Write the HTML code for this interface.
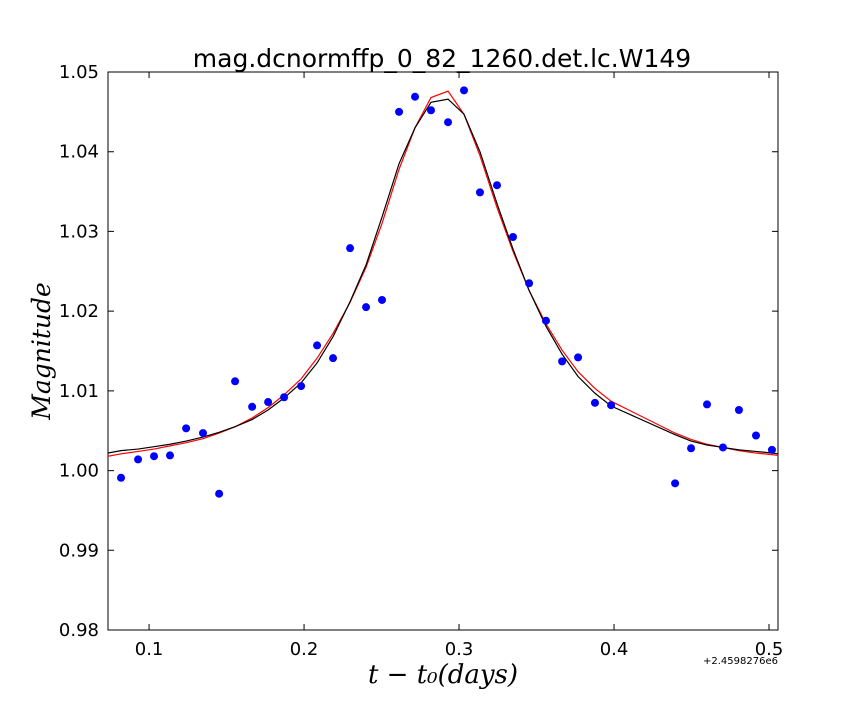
<!DOCTYPE html>
<html><head><meta charset="utf-8"><style>
body{margin:0;background:#fff;}
svg{display:block;font-family:"DejaVu Sans","Liberation Sans",sans-serif;}
</style></head><body>
<svg id="c" width="864" height="720"></svg>
<script>
const obsX=[0.0819,0.0929,0.1032,0.1135,0.1239,0.1348,0.1452,0.1555,0.1665,0.1768,0.1871,0.1981,0.2084,0.2187,0.2297,0.2400,0.2503,0.2613,0.2716,0.2819,0.2929,0.3032,0.3135,0.3245,0.3348,0.3452,0.3561,0.3665,0.3768,0.3877,0.3981,0.4394,0.4497,0.4600,0.4703,0.4806,0.4916,0.5019];
const obsY=[0.9991,1.0014,1.0018,1.0019,1.0053,1.0047,0.9971,1.0112,1.0080,1.0086,1.0092,1.0106,1.0157,1.0141,1.0279,1.0205,1.0214,1.0450,1.0469,1.0452,1.0437,1.0477,1.0349,1.0358,1.0293,1.0235,1.0188,1.0137,1.0142,1.0085,1.0082,0.9984,1.0028,1.0083,1.0029,1.0076,1.0044,1.0026];
const modelX=[0.0735,0.0819,0.0929,0.1032,0.1135,0.1239,0.1348,0.1452,0.1555,0.1665,0.1768,0.1871,0.1981,0.2084,0.2187,0.2297,0.2400,0.2503,0.2613,0.2716,0.2819,0.2929,0.3032,0.3135,0.3245,0.3348,0.3452,0.3561,0.3665,0.3768,0.3877,0.3981,0.4394,0.4497,0.4600,0.4703,0.4806,0.4916,0.5019,0.5058];
const blackY=[1.0022,1.0025,1.0027,1.0030,1.0033,1.0037,1.0042,1.0048,1.0055,1.0064,1.0076,1.0091,1.0110,1.0135,1.0168,1.0212,1.0258,1.0318,1.0385,1.0430,1.0462,1.0466,1.0447,1.0400,1.0335,1.0278,1.0226,1.0181,1.0146,1.0118,1.0097,1.0081,1.0045,1.0037,1.0032,1.0029,1.0026,1.0024,1.0022,1.0021];
const redY=[1.0018,1.0021,1.0024,1.0027,1.0031,1.0035,1.0040,1.0047,1.0055,1.0066,1.0079,1.0095,1.0115,1.0141,1.0172,1.0211,1.0255,1.0310,1.0378,1.0430,1.0468,1.0476,1.0447,1.0395,1.0330,1.0275,1.0226,1.0184,1.0151,1.0124,1.0103,1.0087,1.0047,1.0039,1.0033,1.0029,1.0025,1.0022,1.0020,1.0019];
const xTicks=[0.1,0.2,0.3,0.4,0.5];
const yTicks=[0.98,0.99,1.00,1.01,1.02,1.03,1.04,1.05];
const yTickLabels=["0.98","0.99","1.00","1.01","1.02","1.03","1.04","1.05"];
const L=108,R=778,T=72,B=630,x0=0.0735,x1=0.5058,y0=0.98,y1=1.05;
const sx=v=>L+(v-x0)/(x1-x0)*(R-L);
const sy=v=>B-(v-y0)/(y1-y0)*(B-T);
const svg=document.getElementById('c');
const NS='http://www.w3.org/2000/svg';
function mk(t,a,txt){const e=document.createElementNS(NS,t);for(const k in a)e.setAttribute(k,a[k]);if(txt!=null)e.textContent=txt;svg.appendChild(e);return e;}
let e;
e=mk('defs',{});e.innerHTML='<clipPath id="pc"><rect x="108" y="72" width="670" height="558"/></clipPath>';
e=mk('rect',{x:L,y:T,width:R-L,height:B-T,fill:'#fff',stroke:'#000','stroke-width':1});


xTicks.forEach((v,i)=>{const x=sx(v);
 e=mk('path',{d:`M${x},${B}v-6M${x},${T}v6`,stroke:'#000'});
 
 
 e=mk('text',{x:x,y:B+25,'text-anchor':'middle','font-size':18},String(v));
 
 
});
yTicks.forEach((v,i)=>{const y=sy(v);
 e=mk('path',{d:`M${L},${y}h6M${R},${y}h-6`,stroke:'#000'});
 
 
 e=mk('text',{x:L-9,y:y+6,'text-anchor':'end','font-size':18},yTickLabels[i]);
 
 
});
function line(ys,col,name){
 e=mk('polyline',{points:modelX.map((v,i)=>sx(v)+','+sy(ys[i])).join(' '),fill:'none',stroke:col,'stroke-width':1.2,'clip-path':'url(#pc)'});
 
 
}
line(redY,'#ff0000','model-line-red');
line(blackY,'#000000','model-line-black');
obsX.forEach((v,i)=>{
 e=mk('circle',{cx:sx(v),cy:sy(obsY[i]),r:4,fill:'#0000ff','clip-path':'url(#pc)'});
 
 
});
e=mk('text',{x:442,y:67,'text-anchor':'middle','font-size':25},'mag.dcnormffp_0_82_1260.det.lc.W149');


e=mk('text',{x:778,y:664,'text-anchor':'end','font-size':10},'+2.4598276e6');


e=mk('text',{x:443,y:683,'text-anchor':'middle','font-size':26,'font-family':'"DejaVu Serif","Liberation Serif",serif','font-style':'italic'},'t − t₀(days)');


e=mk('text',{x:50,y:351,'text-anchor':'middle','font-size':25,'font-family':'"DejaVu Serif","Liberation Serif",serif','font-style':'italic',transform:'rotate(-90 50 351)'},'Magnitude');


</script>
</body></html>
